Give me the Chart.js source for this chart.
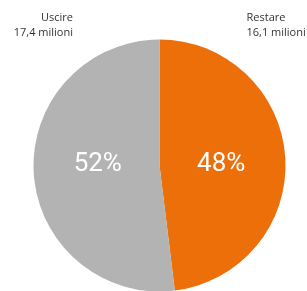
<!DOCTYPE html>
<html><head><meta charset="utf-8">
<script src="https://cdn.jsdelivr.net/npm/chart.js@4/dist/chart.umd.min.js"></script>
<style>html,body{margin:0;padding:0;background:#fff}#w{width:307px;height:291px}</style>
</head><body><div id="w"><canvas id="c" width="307" height="291"></canvas></div>
<script>
const categories = ["Restare", "Uscire"];
const values = [16.1, 17.4];
const valueLabels = ["16,1 milioni", "17,4 milioni"];
const percentLabels = ["48%", "52%"];
const colors = ["#EC6F0A", "#B3B3B3"];

const labelsPlugin = {
  id: 'labelsPlugin',
  afterDatasetsDraw(chart) {
    const ctx = chart.ctx;
    const meta = chart.getDatasetMeta(0);
    ctx.save();
    ctx.fillStyle = '#fff';
    ctx.font = '26px Roboto';
    ctx.textAlign = 'center';
    ctx.textBaseline = 'middle';
    meta.data.forEach((arc, i) => {
      const mid = (arc.startAngle + arc.endAngle) / 2;
      const x = arc.x + Math.sign(Math.cos(mid)) * arc.outerRadius * 0.49;
      ctx.fillText(percentLabels[i], x, arc.y - 1);
    });
    ctx.fillStyle = '#333';
    meta.data.forEach((arc, i) => {
      const mid = (arc.startAngle + arc.endAngle) / 2;
      const right = Math.cos(mid) > 0;
      ctx.textAlign = right ? 'left' : 'right';
      ctx.textBaseline = 'alphabetic';
      const x = right ? 246.5 : 73;
      ctx.font = '11px "Open Sans"';
      ctx.fillText(categories[i], x, 21);
      ctx.fillText(valueLabels[i], x, 36);
    });
    ctx.restore();
  }
};

new Chart(document.getElementById('c'), {
  type: 'pie',
  data: { labels: categories, datasets: [{ data: values, backgroundColor: colors, borderWidth: 0 }] },
  options: {
    responsive: false,
    animation: false,
    radius: 126,
    layout: { padding: { left: 33, right: 21, top: 40, bottom: 0 } },
    plugins: { legend: { display: false }, tooltip: { enabled: false } }
  },
  plugins: [labelsPlugin]
});
</script></body></html>
